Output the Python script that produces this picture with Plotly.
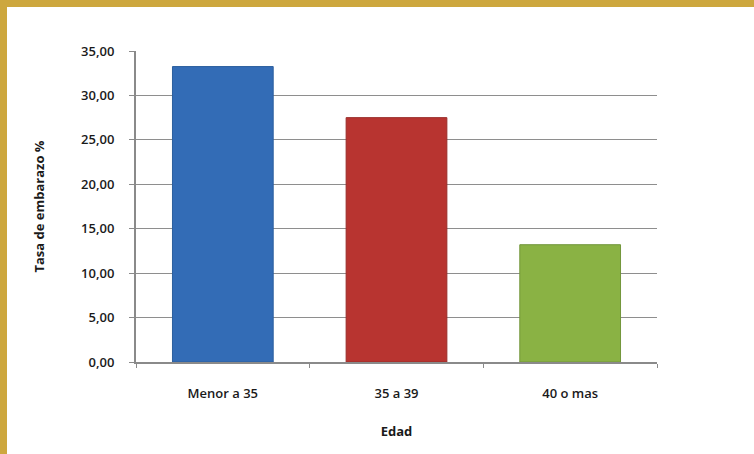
import plotly.graph_objects as go

categories = ["Menor a 35", "35 a 39", "40 o mas"]
values = [33.25, 27.5, 13.2]
colors = ["#336cb6", "#b83430", "#8ab244"]
line_colors = ["#2c5f9e", "#9a2c29", "#72963a"]
y_ticks = [0, 5, 10, 15, 20, 25, 30, 35]

W, H = 754, 454
L, R, T, B = 136, 97, 51, 92
pw, ph = W - L - R, H - T - B

def px_x(p):
    return (p - L) / pw

def px_y(p):
    return (H - B - p) / ph

fig = go.Figure()
fig.add_trace(go.Bar(
    x=categories, y=values,
    marker=dict(color=colors, line=dict(color=line_colors, width=1)),
    width=0.58,
))

font_family = "'Open Sans', Lato, sans-serif"

fig.update_layout(
    width=W, height=H,
    margin=dict(l=L, r=R, t=T, b=B),
    paper_bgcolor="#cda73e",
    plot_bgcolor="white",
    separators=",.",
    showlegend=False,
    font=dict(family=font_family, size=12, color="#1a1a1a"),
    shapes=[
        dict(type="rect", xref="paper", yref="paper",
             x0=px_x(7), x1=px_x(W + 5), y0=px_y(H + 5), y1=px_y(7),
             fillcolor="white", line=dict(width=0), layer="below"),
    ],
)

fig.update_yaxes(
    range=[0, 35], tickvals=y_ticks, tickformat=".2f",
    showgrid=True, gridcolor="#8e8e8e", gridwidth=1,
    showline=True, linecolor="#8a8a8a", linewidth=2,
    ticks="outside", ticklen=5, tickcolor="#8a8a8a",
    ticklabelstandoff=12,
    tickfont=dict(size=13, color="#1a1a1a", weight=600),
    title=dict(text="Tasa de embarazo %", font=dict(size=13, weight="bold"), standoff=34),
    zeroline=False,
)
fig.update_xaxes(
    showline=True, linecolor="#8a8a8a", linewidth=2,
    ticks="outside", ticklen=4, tickcolor="#8a8a8a", tickson="boundaries",
    ticklabelstandoff=18,
    tickfont=dict(size=13, color="#1a1a1a", weight=600),
    title=dict(text="Edad", font=dict(size=13, weight="bold"), standoff=26),
    range=[-0.5, 2.5],
)

fig.write_html("out.html", config={"displayModeBar": False},
               post_script="document.body.style.margin='0';document.body.style.overflow='hidden';")
